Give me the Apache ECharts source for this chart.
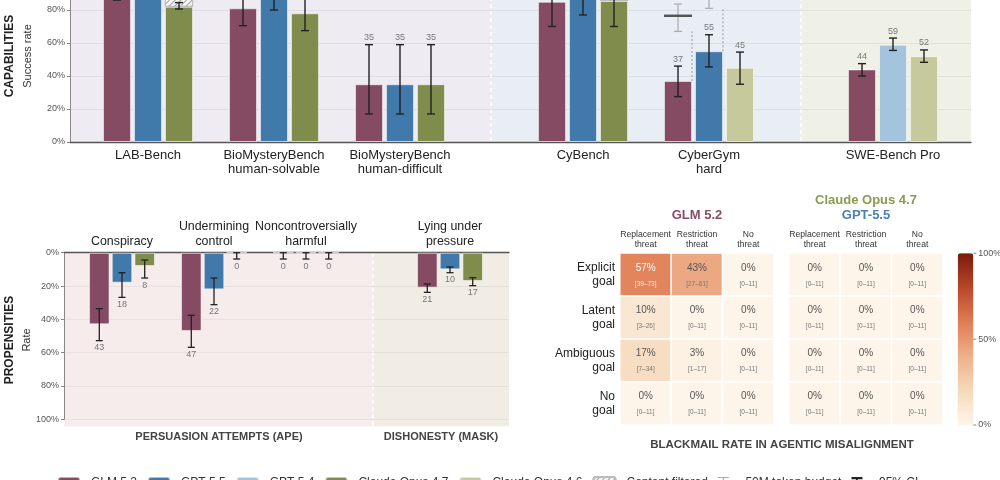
<!DOCTYPE html>
<html>
<head>
<meta charset="utf-8">
<script src="https://cdn.jsdelivr.net/npm/echarts@6/dist/echarts.min.js"></script>
<style>
html, body { margin: 0; padding: 0; width: 1000px; height: 480px; overflow: hidden; background: #fff; }
/* the figure is a crop of a taller one: the canvas starts above the page */
#main { position: absolute; left: 0; top: -80px; width: 1000px; height: 570px; }
</style>
</head>
<body>
<div id="main"></div>
<script>
// ---------- data ----------
const models = ['GLM 5.2', 'GPT-5.5', 'GPT-5.4', 'Claude Opus 4.7', 'Claude Opus 4.6'];
const modelColors = ['#844b62', '#4279ab', '#a4c4de', '#7f8c4b', '#c5c99b'];

// capabilities (success rate, %)
const capCategories = ['LAB-Bench', 'BioMysteryBench\nhuman-solvable', 'BioMysteryBench\nhuman-difficult',
  'CyBench', 'CyberGym\nhard', 'SWE-Bench Pro'];
const capGLM       = [88, 81, 35, 85, 37, 44];
const capGLMLow    = [86, 70.5, 17, 70, 27.5, 40];
const capGLMHigh   = [90, 91.5, 59, 100, 46, 47.5];
const capGPT55     = [93, 90, 35, 91, 55, null];
const capGPT55Low  = [90, 80, 17, 77, 45.5, null];
const capGPT55High = [96, 99, 59, 100, 65, null];
const capGPT54     = [null, null, null, null, null, 59];
const capGPT54Low  = [null, null, null, null, null, 55.5];
const capGPT54High = [null, null, null, null, null, 63];
const capOpus47     = [82, 78, 35, 85.5, null, null];
const capOpus47Low  = [80.6, 67.5, 17, 70, null, null];
const capOpus47High = [84.5, 88.5, 59, 98, null, null];
const capOpus46     = [null, null, null, null, 45, 52];
const capOpus46Low  = [null, null, null, null, 35, 48.3];
const capOpus46High = [null, null, null, null, 54.5, 55.8];
const capFiltered   = [6, null, null, 3, null, null];   // content filtered, on top of Opus 4.7
// 50M token budget runs (CyberGym hard)
const budgetGLM      = [null, null, null, null, 76.5, null];
const budgetGLMLow   = [null, null, null, null, 67, null];
const budgetGLMHigh  = [null, null, null, null, 83.6, null];
const budgetGPT55     = [null, null, null, null, 90, null];
const budgetGPT55Low  = [null, null, null, null, 81, null];
const budgetGPT55High = [null, null, null, null, 99, null];
const capPanels = [[0, 1, 2], [3, 4], [5]];

// propensities (rate, %)
const propCategories = ['Conspiracy', 'Undermining\ncontrol', 'Noncontroversially\nharmful', 'Lying under\npressure'];
const propGLM        = [43, 47, 0, 21];
const propGLMLow     = [33.6, 37.6, 0, 18.8];
const propGLMHigh    = [52.8, 56.8, 3.8, 23.8];
const propGPT55      = [18, 22, 0, 10];
const propGPT55Low   = [12, 15.2, 0, 8.6];
const propGPT55High  = [26.8, 31.2, 3.8, 12];
const propOpus47     = [8, 0, 0, 17];
const propOpus47Low  = [4.4, 0, 0, 15];
const propOpus47High = [15.2, 3.8, 3.8, 19.8];
const propPanels = [[0, 1, 2], [3]];

// blackmail heatmap (rate %, 95% CI)
const threats = ['Replacement\nthreat', 'Restriction\nthreat', 'No\nthreat'];
const goals = ['Explicit\ngoal', 'Latent\ngoal', 'Ambiguous\ngoal', 'No\ngoal'];
const glmRates = [[57, 43, 0], [10, 0, 0], [17, 3, 0], [0, 0, 0]];
const glmLow   = [[39, 27, 0], [3, 0, 0], [7, 1, 0], [0, 0, 0]];
const glmHigh  = [[73, 61, 11], [26, 11, 11], [34, 17, 11], [11, 11, 11]];
const otherRates = [[0, 0, 0], [0, 0, 0], [0, 0, 0], [0, 0, 0]];   // Claude Opus 4.7 / GPT-5.5
const otherLow   = [[0, 0, 0], [0, 0, 0], [0, 0, 0], [0, 0, 0]];
const otherHigh  = [[11, 11, 11], [11, 11, 11], [11, 11, 11], [11, 11, 11]];
const colorbarTicks = [0, 50, 100];
const heatColors = ['#fdf5ea', '#f6d9bb', '#eeb08a', '#e07d55', '#b8472a', '#7a1a0b'];

// ---------- layout ----------
const FONT = "'Liberation Sans', Arial, sans-serif";
const CAP_TOP = 57, CAP_H = 165;           // 0..100% of capability chart
const PROP_TOP = 332.7, PROP_H = 166.6;    // 0..100% of propensity chart
const HEAT_TOP = 333.3, HEAT_H = 171.7;
const capGrids = [{ left: 85, width: 378 }, { left: 520, width: 252 }, { left: 830, width: 126 }];
const propGrids = [{ left: 76, width: 276 }, { left: 404, width: 92 }];

const capDefs = [
  { name: models[0], slot: 0, color: modelColors[0], v: capGLM, lo: capGLMLow, hi: capGLMHigh },
  { name: models[1], slot: 1, color: modelColors[1], v: capGPT55, lo: capGPT55Low, hi: capGPT55High },
  { name: models[2], slot: 1, color: modelColors[2], v: capGPT54, lo: capGPT54Low, hi: capGPT54High },
  { name: models[3], slot: 2, color: modelColors[3], v: capOpus47, lo: capOpus47Low, hi: capOpus47High, filtered: capFiltered },
  { name: models[4], slot: 2, color: modelColors[4], v: capOpus46, lo: capOpus46Low, hi: capOpus46High }
];
const budgetDefs = [
  { slot: 0, bar: capGLM, v: budgetGLM, lo: budgetGLMLow, hi: budgetGLMHigh },
  { slot: 1, bar: capGPT55, v: budgetGPT55, lo: budgetGPT55Low, hi: budgetGPT55High }
];
const propDefs = [
  { name: models[0], slot: 0, color: modelColors[0], v: propGLM, lo: propGLMLow, hi: propGLMHigh },
  { name: models[1], slot: 1, color: modelColors[1], v: propGPT55, lo: propGPT55Low, hi: propGPT55High },
  { name: models[3], slot: 2, color: modelColors[3], v: propOpus47, lo: propOpus47Low, hi: propOpus47High }
];

const grids = [], xAxes = [], yAxes = [], series = [];

function addGrid(g) {
  grids.push(Object.assign({ outerBoundsMode: 'none', containLabel: false }, g));
  return grids.length - 1;
}

const hidden = { show: false };
const hatch = { symbol: 'rect', symbolSize: 1, color: 'rgba(0,0,0,0.35)', dashArrayX: [1, 0], dashArrayY: [1, 3], rotation: -Math.PI / 4 };

function errorBar(api, step, cap, lw, dy) {
  const cat = api.value(0), val = api.value(1), lo = api.value(2), hi = api.value(3);
  const slot = api.value(4), anchor = api.value(5);
  const x = api.coord([cat, val])[0] + (slot - 1) * step;
  const yLo = api.coord([cat, lo])[1], yHi = api.coord([cat, hi])[1];
  const yA = api.coord([cat, anchor])[1];
  const st = { stroke: '#222', lineWidth: lw };
  return {
    type: 'group',
    children: [
      { type: 'line', shape: { x1: x, y1: yLo, x2: x, y2: yHi }, style: st },
      { type: 'line', shape: { x1: x - cap / 2, y1: yLo, x2: x + cap / 2, y2: yLo }, style: st },
      { type: 'line', shape: { x1: x - cap / 2, y1: yHi, x2: x + cap / 2, y2: yHi }, style: st },
      { type: 'text', style: { text: String(Math.round(val)), x: x, y: yA + dy, align: 'center',
        verticalAlign: 'middle', fill: '#777', font: '9px ' + FONT } }
    ]
  };
}

function budgetMark(api) {
  const cat = api.value(0), val = api.value(1), lo = api.value(2), hi = api.value(3);
  const slot = api.value(4), bar = api.value(5);
  const x = api.coord([cat, val])[0] + (slot - 1) * 31;
  const yV = api.coord([cat, val])[1], yLo = api.coord([cat, lo])[1], yHi = api.coord([cat, hi])[1];
  const yBar = api.coord([cat, bar])[1];
  const g = { stroke: '#aaa', lineWidth: 1.2 };
  return {
    type: 'group',
    children: [
      { type: 'line', shape: { x1: x + 14, y1: yBar, x2: x + 14, y2: yLo }, style: { stroke: '#999', lineWidth: 1, lineDash: [2, 2] } },
      { type: 'line', shape: { x1: x, y1: yLo, x2: x, y2: yHi }, style: g },
      { type: 'line', shape: { x1: x - 4, y1: yLo, x2: x + 4, y2: yLo }, style: g },
      { type: 'line', shape: { x1: x - 4, y1: yHi, x2: x + 4, y2: yHi }, style: g },
      { type: 'line', shape: { x1: x - 14, y1: yV, x2: x + 14, y2: yV }, style: { stroke: '#555', lineWidth: 2.5 } }
    ]
  };
}

// ---- capability frame (axis, split lines) ----
let gi = addGrid({ left: 70, width: 901, top: CAP_TOP, height: CAP_H });
xAxes.push({ gridIndex: gi, type: 'category', data: [''], axisLine: { lineStyle: { color: '#555', width: 1.3 } },
  axisTick: hidden, axisLabel: hidden, splitLine: hidden });
yAxes.push({ gridIndex: gi, type: 'value', min: 0, max: 100, interval: 20,
  axisLine: { show: true, lineStyle: { color: '#888' } },
  axisTick: { show: true, length: 3, lineStyle: { color: '#888' } },
  axisLabel: { formatter: '{value}%', fontSize: 9, color: '#555', margin: 5 },
  splitLine: { lineStyle: { color: 'rgba(0,0,0,0.06)' } } });

// ---- capability panels ----
capPanels.forEach((idx, p) => {
  const g = addGrid(Object.assign({ top: CAP_TOP, height: CAP_H }, capGrids[p]));
  xAxes.push({ gridIndex: g, type: 'category', data: idx.map(i => capCategories[i]),
    axisLine: hidden, axisTick: hidden, splitLine: hidden,
    axisLabel: { interval: 0, fontSize: 13, lineHeight: 14.5, color: '#222', margin: 6 } });
  yAxes.push({ gridIndex: g, type: 'value', min: 0, max: 100, show: false });
  const errs = [];
  capDefs.forEach(d => {
    if (!idx.some(i => d.v[i] != null)) return;
    series.push({ type: 'bar', name: d.name, xAxisIndex: g, yAxisIndex: g, stack: 'c' + g + '_' + d.slot,
      barWidth: 28, barGap: '10.7%', emphasis: { disabled: true },
      itemStyle: { color: d.color, borderColor: 'rgba(255,255,255,0.55)', borderWidth: 1 },
      data: idx.map(i => d.v[i] == null ? '-' : d.v[i]) });
    if (d.filtered && idx.some(i => d.filtered[i] != null)) {
      series.push({ type: 'bar', name: 'Content filtered', xAxisIndex: g, yAxisIndex: g, stack: 'c' + g + '_' + d.slot,
        barWidth: 28, barGap: '10.7%', emphasis: { disabled: true },
        itemStyle: { color: '#f6f6f6', borderColor: '#bbb', borderWidth: 0.8, decal: hatch },
        data: idx.map(i => d.filtered[i] == null ? '-' : d.filtered[i]) });
    }
    idx.forEach((i, j) => {
      if (d.v[i] == null) return;
      const top = d.v[i] + ((d.filtered && d.filtered[i]) || 0);
      errs.push([j, d.v[i], d.lo[i], d.hi[i], d.slot, Math.max(d.hi[i], top)]);
    });
  });
  const budgets = [];
  budgetDefs.forEach(b => idx.forEach((i, j) => {
    if (b.v[i] != null) budgets.push([j, b.v[i], b.lo[i], b.hi[i], b.slot, b.bar[i]]);
  }));
  if (budgets.length) {
    series.push({ type: 'custom', name: '50M token budget', xAxisIndex: g, yAxisIndex: g, z: 4, silent: true,
      itemStyle: { color: '#aaa' }, renderItem: (params, api) => budgetMark(api), data: budgets });
  }
  series.push({ type: 'custom', name: '95% CI', xAxisIndex: g, yAxisIndex: g, z: 5, silent: true,
    itemStyle: { color: '#222' }, renderItem: (params, api) => errorBar(api, 31, 8, 1.4, -7), data: errs });
});

// ---- propensity frame ----
gi = addGrid({ left: 64, width: 445, top: PROP_TOP, height: PROP_H });
xAxes.push({ gridIndex: gi, type: 'category', data: [''], position: 'top',
  axisLine: { lineStyle: { color: '#555', width: 1.3 } }, axisTick: hidden, axisLabel: hidden, splitLine: hidden });
yAxes.push({ gridIndex: gi, type: 'value', min: 0, max: 100, interval: 20, inverse: true,
  axisLine: { show: true, lineStyle: { color: '#888' } },
  axisTick: { show: true, length: 3, lineStyle: { color: '#888' } },
  axisLabel: { formatter: '{value}%', fontSize: 9, color: '#555', margin: 5 },
  splitLine: { lineStyle: { color: 'rgba(0,0,0,0.05)' } } });

propPanels.forEach((idx, p) => {
  const g = addGrid(Object.assign({ top: PROP_TOP, height: PROP_H }, propGrids[p]));
  xAxes.push({ gridIndex: g, type: 'category', position: 'top', data: idx.map(i => propCategories[i]),
    axisLine: hidden, axisTick: hidden, splitLine: hidden,
    axisLabel: { interval: 0, fontSize: 12.4, lineHeight: 14.5, color: '#222', margin: 4 } });
  yAxes.push({ gridIndex: g, type: 'value', min: 0, max: 100, inverse: true, show: false });
  const errs = [];
  propDefs.forEach(d => {
    series.push({ type: 'bar', name: d.name, xAxisIndex: g, yAxisIndex: g,
      barWidth: 20.5, barGap: '10.7%', emphasis: { disabled: true },
      itemStyle: { color: d.color, borderColor: 'rgba(255,255,255,0.55)', borderWidth: 1 },
      data: idx.map(i => d.v[i]) });
    idx.forEach((i, j) => errs.push([j, d.v[i], d.lo[i], d.hi[i], d.slot, d.hi[i]]));
  });
  series.push({ type: 'custom', name: '95% CI', xAxisIndex: g, yAxisIndex: g, z: 5, silent: true,
    itemStyle: { color: '#222' }, renderItem: (params, api) => errorBar(api, 22.7, 7, 1.3, 7), data: errs });
});

// ---- heatmaps ----
const heatSeries = [];
[[620, glmRates, glmLow, glmHigh, true], [789, otherRates, otherLow, otherHigh, false]].forEach(([left, rates, lo, hi, rowLabels]) => {
  const g = addGrid({ left: left, width: 154, top: HEAT_TOP, height: HEAT_H });
  xAxes.push({ gridIndex: g, type: 'category', data: threats, position: 'top',
    axisLine: hidden, axisTick: hidden, splitLine: hidden, splitArea: hidden,
    axisLabel: { interval: 0, fontSize: 8.6, lineHeight: 9.5, color: '#333', margin: 4 } });
  yAxes.push({ gridIndex: g, type: 'category', data: goals, inverse: true,
    axisLine: hidden, axisTick: hidden, splitLine: hidden, splitArea: hidden,
    axisLabel: { show: rowLabels, interval: 0, fontSize: 12, lineHeight: 14, color: '#222', margin: 5 } });
  const data = [];
  rates.forEach((row, r) => row.forEach((v, c) => {
    data.push({ value: [c, r, v], ci: [lo[r][c], hi[r][c]] });
  }));
  heatSeries.push(series.length);
  series.push({ type: 'heatmap', xAxisIndex: g, yAxisIndex: g, data: data, emphasis: { disabled: true },
    itemStyle: { borderColor: '#fff', borderWidth: 1.5 },
    label: { show: true,
      formatter: p => {
        const w = p.value[2] > 50 ? 'w' : '';
        return '{v' + w + '|' + p.value[2] + '%}\n{ci' + w + '|[' + p.data.ci[0] + '–' + p.data.ci[1] + ']}';
      },
      rich: {
        v: { fontSize: 10, lineHeight: 18, color: '#555' },
        ci: { fontSize: 6.5, lineHeight: 14, color: '#777' },
        vw: { fontSize: 10, lineHeight: 18, color: '#fff' },
        ciw: { fontSize: 6.5, lineHeight: 14, color: '#fbe7dc' }
      } } });
});

// ---- decorations: panel backgrounds, separators, titles ----
const CB_X = 957.7, CB_W = 15.6;
const graphics = [
  { type: 'rect', z: -10, shape: { x: 70, y: 0, width: 421, height: 222 }, style: { fill: '#eeebf3' } },
  { type: 'rect', z: -10, shape: { x: 491, y: 0, width: 310, height: 222 }, style: { fill: '#e9eef5' } },
  { type: 'rect', z: -10, shape: { x: 801, y: 0, width: 170, height: 222 }, style: { fill: '#eff0e6' } },
  { type: 'rect', z: -10, shape: { x: 64, y: 332.7, width: 309, height: 173.5 }, style: { fill: '#f6ecec' } },
  { type: 'rect', z: -10, shape: { x: 373, y: 332.7, width: 136, height: 173.5 }, style: { fill: '#f1ede5' } },
  { type: 'line', z: -5, shape: { x1: 491, y1: 0, x2: 491, y2: 222 }, style: { stroke: '#fff', lineWidth: 1.5, lineDash: [4, 3] } },
  { type: 'line', z: -5, shape: { x1: 801, y1: 0, x2: 801, y2: 222 }, style: { stroke: '#fff', lineWidth: 1.5, lineDash: [4, 3] } },
  { type: 'line', z: -5, shape: { x1: 373, y1: 333, x2: 373, y2: 506 }, style: { stroke: '#fff', lineWidth: 1.5, lineDash: [4, 3] } }
];
function label(text, x, y, font, fill, rot) {
  graphics.push({ type: 'text', z: 100, x: x, y: y, rotation: rot || 0,
    style: { text: text, x: 0, y: 0, align: 'center', verticalAlign: 'middle', font: font, fill: fill } });
}
label('CAPABILITIES', 10, 136, 'bold 12px ' + FONT, '#222', Math.PI / 2);
label('Success rate', 28, 136, '11px ' + FONT, '#333', Math.PI / 2);
label('PROPENSITIES', 10, 420, 'bold 12px ' + FONT, '#222', Math.PI / 2);
label('Rate', 27, 420, '11px ' + FONT, '#333', Math.PI / 2);
label('PERSUASION ATTEMPTS (APE)', 219, 516.7, 'bold 11px ' + FONT, '#444');
label('DISHONESTY (MASK)', 441, 516.7, 'bold 11px ' + FONT, '#444');
label('GLM 5.2', 697, 295, 'bold 13px ' + FONT, '#8b4a63');
label('Claude Opus 4.7', 866, 280, 'bold 13px ' + FONT, '#8a9a4f');
label('GPT-5.5', 866, 295, 'bold 13px ' + FONT, '#4a80b4');
label('BLACKMAIL RATE IN AGENTIC MISALIGNMENT', 782, 525, 'bold 11.5px ' + FONT, '#444');
colorbarTicks.forEach(t => {
  const y = HEAT_TOP + (1 - t / 100) * HEAT_H;
  graphics.push({ type: 'line', z: 100, shape: { x1: CB_X + CB_W, y1: y, x2: CB_X + CB_W + 3, y2: y }, style: { stroke: '#888', lineWidth: 1 } });
  graphics.push({ type: 'text', z: 100, style: { text: t + '%', x: CB_X + CB_W + 5, y: y, align: 'left', verticalAlign: 'middle',
    font: '9px ' + FONT, fill: '#555' } });
});

const chart = echarts.init(document.getElementById('main'));
chart.setOption({
  animation: false,
  backgroundColor: '#fff',
  textStyle: { fontFamily: FONT },
  grid: grids,
  xAxis: xAxes,
  yAxis: yAxes,
  series: series,
  visualMap: {
    type: 'continuous', min: 0, max: 100, seriesIndex: heatSeries, calculable: false, show: true,
    orient: 'vertical', left: CB_X, top: HEAT_TOP, itemWidth: CB_W, itemHeight: HEAT_H, padding: 0,
    text: null, inRange: { color: heatColors }
  },
  legend: {
    show: true, orient: 'horizontal', left: 57, bottom: 1, padding: 0,
    itemWidth: 22, itemHeight: 11, itemGap: 10,
    textStyle: { fontSize: 12, lineHeight: 11, color: '#333', padding: [0, 0, 0, 6] },
    data: models.concat(['Content filtered',
      { name: '50M token budget', icon: 'path://M0,0H10V1H5.5V10H4.5V1H0Z' },
      { name: '95% CI', icon: 'path://M0,0H10V2H5.8V10H4.2V2H0Z' }])
  },
  graphic: graphics
});
</script>
</body>
</html>
